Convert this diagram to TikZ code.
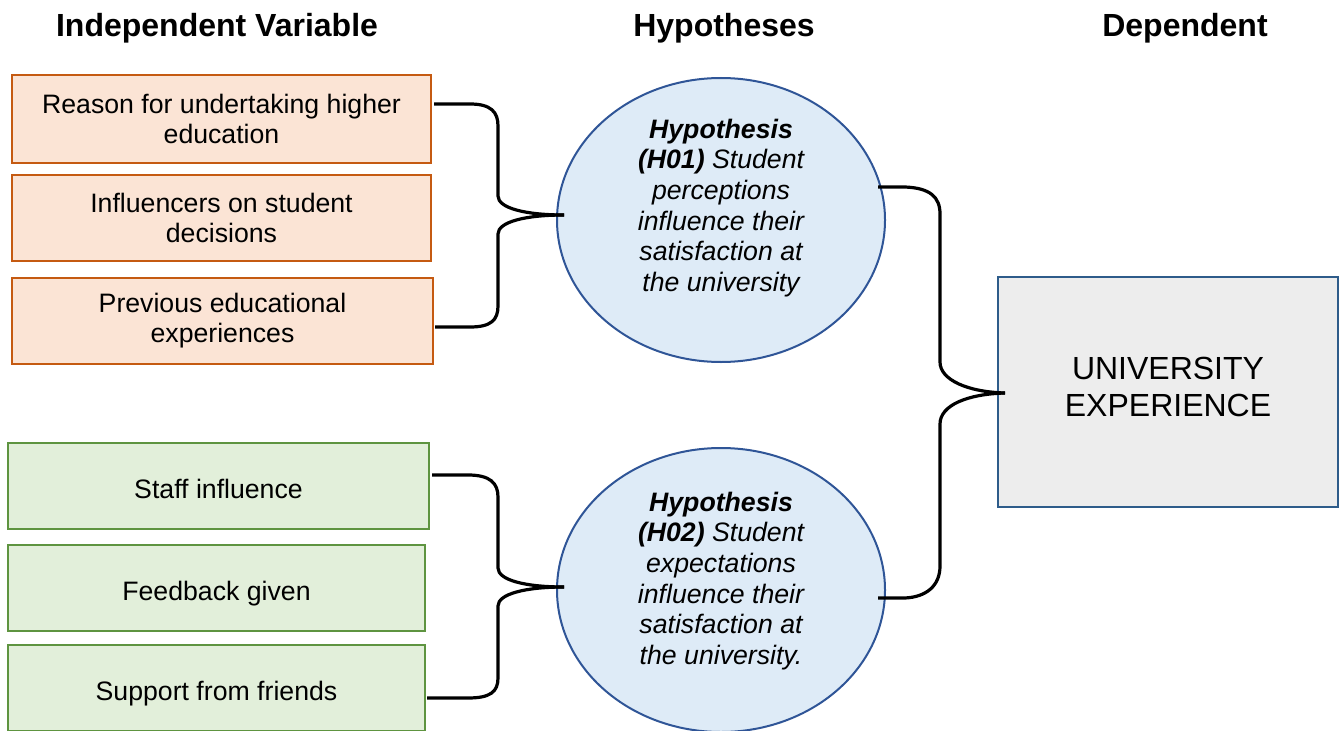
\documentclass[tikz,border=0pt]{standalone}
\usepackage{fontspec}
\setmainfont{Liberation Sans}
\usetikzlibrary{shapes.geometric,calc}
\definecolor{ivfill}{HTML}{FBE4D5}
\definecolor{ivdraw}{HTML}{C55A11}
\definecolor{gfill}{HTML}{E2EFDA}
\definecolor{gdraw}{HTML}{5E9440}
\definecolor{hfill}{HTML}{DEEBF7}
\definecolor{hdraw}{HTML}{2F5597}
\definecolor{ufill}{HTML}{EDEDED}
\definecolor{udraw}{HTML}{2E5C8A}
\begin{document}
\begin{tikzpicture}[x=0.75pt,y=-0.75pt,
  header/.style={font=\fontsize{24}{28}\selectfont\bfseries, anchor=base, inner sep=0},
  bodytext/.style={font=\fontsize{20}{22.5}\selectfont, align=center},
  ivbox/.style={bodytext, draw=ivdraw, fill=ivfill, line width=1.5pt, inner sep=0, minimum height=64.5pt},
  gbox/.style={bodytext, draw=gdraw, fill=gfill, line width=1.5pt, inner sep=0, minimum height=64.5pt, text height=19pt, text depth=0pt},
  hyp/.style={ellipse, draw=hdraw, fill=hfill, line width=1.5pt, inner sep=0, minimum width=246pt, minimum height=213pt},
  hyptext/.style={font=\fontsize{20}{23}\selectfont\itshape, align=center, inner sep=0},
  depbox/.style={draw=udraw, fill=ufill, line width=1.5pt, inner sep=0, minimum width=255pt, minimum height=172.5pt},
  deptext/.style={align=center, inner sep=0, font=\fontsize{24}{27.75}\selectfont},
  brace/.style={draw=black, line width=2.4pt}]
\useasboundingbox (0,0) rectangle (1341,731);

% column headings
\node[header] (hiv) at (217,37) {Independent Variable};
\node[header] (hhy) at (724,37) {Hypotheses};
\node[header] (hdv) at (1185,37) {Dependent};

% independent variables, first group
\node[ivbox, minimum width=314.25pt, minimum height=66pt] (b1) at (221.5,119) {Reason for undertaking higher\\education};
\node[ivbox, minimum width=314.25pt] (b2) at (221.5,218) {Influencers on student\\decisions};
\node[ivbox, minimum width=315.75pt] (b3) at (222.5,321) {Previous educational\\experiences};

% independent variables, second group
\node[gbox, minimum width=315.75pt] (g1) at (218.5,486) {Staff influence};
\node[gbox, minimum width=312.75pt] (g2) at (216.5,588) {Feedback given};
\node[gbox, minimum width=312.75pt] (g3) at (216.5,688) {Support from friends};

% hypotheses
\node[hyp] (h1) at (721,220) {};
\node[hyptext] (h1t) at ($(h1)+(0,-12)$) {{\bfseries Hypothesis}\\{\bfseries (H01)} Student\\perceptions\\influence their\\satisfaction at\\the university};
\node[hyp] (h2) at (721,590) {};
\node[hyptext] (h2t) at ($(h2)+(0,-9)$) {{\bfseries Hypothesis}\\{\bfseries (H02)} Student\\expectations\\influence their\\satisfaction at\\the university.};

% dependent variable
\node[depbox] (ue) at (1168,392) {};
\node[deptext] (uet) at ($(ue)+(0,-5)$) {UNIVERSITY\\EXPERIENCE};

% brace joining the first group to H01
\draw[brace] ($(b1.east)+(2,-15)$) -- (470,104) .. controls (491,104) and (498,112) .. (498,126)
  -- (498,196) .. controls (498,208) and (525,215) .. ($(h1.west)+(8,-5)$) coordinate (t1);
\draw[brace] (t1) .. controls (525,215) and (498,222) .. (498,234)
  -- (498,306) .. controls (498,320) and (491,327) .. (470,327) -- ($(b3.east)+(1,6)$);

% brace joining the second group to H02
\draw[brace] ($(g1.east)+(2,-11)$) -- (468,475) .. controls (490,475) and (498,483) .. (498,497)
  -- (498,568) .. controls (498,580) and (525,587) .. ($(h2.west)+(8,-3)$) coordinate (t2);
\draw[brace] (t2) .. controls (525,587) and (498,594) .. (498,606)
  -- (498,678) .. controls (498,692) and (490,698) .. (468,698) -- ($(g3.east)+(1,10)$);

% brace joining both hypotheses to the dependent variable
\draw[brace] ($(h1.east)+(-8,-33)$) -- (905,187) .. controls (930,188) and (940,197) .. (940,214)
  -- (940,362) .. controls (940,380) and (968,392) .. ($(ue.west)+(8,1)$) coordinate (t3);
\draw[brace] (t3) .. controls (968,394) and (940,405) .. (940,424)
  -- (940,566) .. controls (940,586) and (926,597) .. (905,598) -- ($(h2.east)+(-8,8)$);
\end{tikzpicture}
\end{document}
